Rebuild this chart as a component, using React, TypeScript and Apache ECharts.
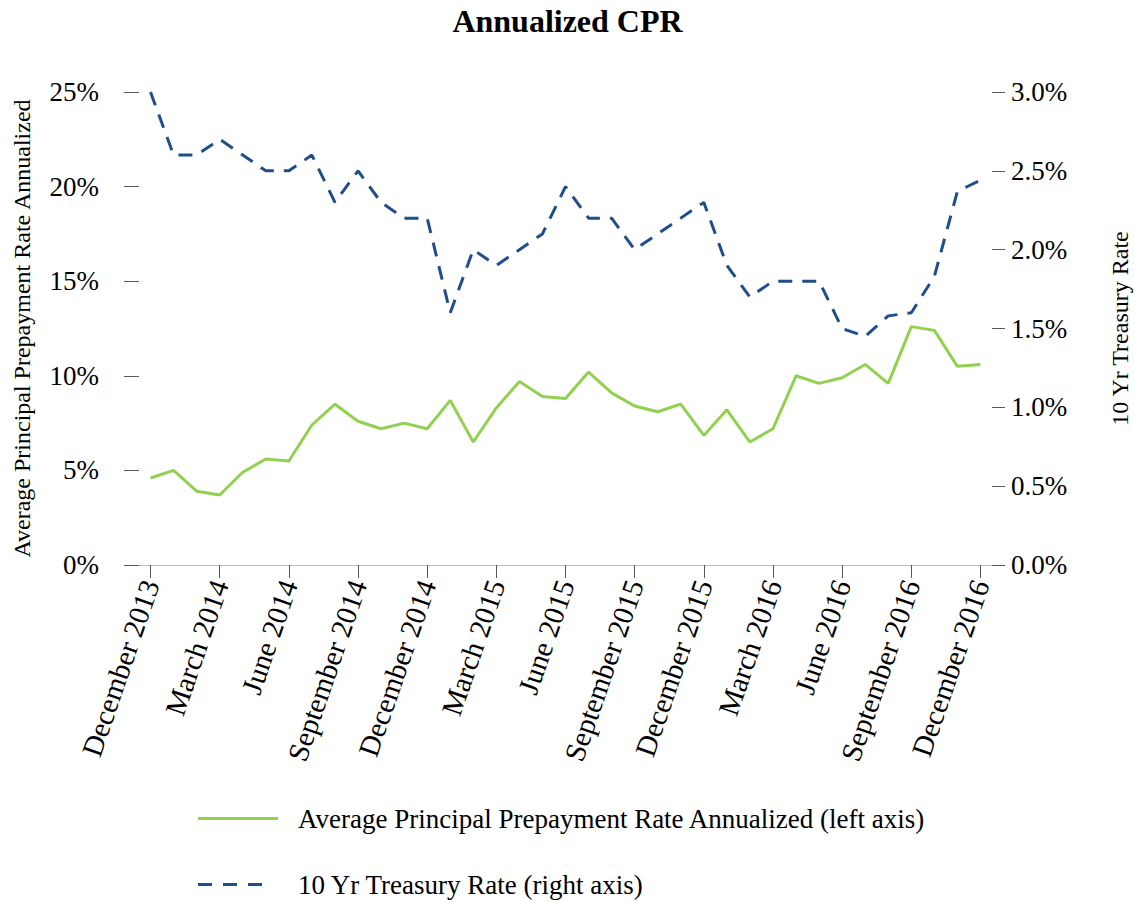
import React, { useEffect, useRef } from "react";
import * as echarts from "echarts";

const months = [
  "December 2013", "January 2014", "February 2014", "March 2014", "April 2014", "May 2014",
  "June 2014", "July 2014", "August 2014", "September 2014", "October 2014", "November 2014",
  "December 2014", "January 2015", "February 2015", "March 2015", "April 2015", "May 2015",
  "June 2015", "July 2015", "August 2015", "September 2015", "October 2015", "November 2015",
  "December 2015", "January 2016", "February 2016", "March 2016", "April 2016", "May 2016",
  "June 2016", "July 2016", "August 2016", "September 2016", "October 2016", "November 2016",
  "December 2016",
];

const cprValues = [
  4.6, 5.0, 3.9, 3.7, 4.9, 5.6, 5.5, 7.4, 8.5, 7.6, 7.2, 7.5,
  7.2, 8.7, 6.5, 8.3, 9.7, 8.9, 8.8, 10.2, 9.1, 8.4, 8.1, 8.5,
  6.85, 8.2, 6.5, 7.2, 10.0, 9.6, 9.9, 10.6, 9.6, 12.6, 12.4, 10.5,
  10.6,
];

const treasuryValues = [
  3.0, 2.6, 2.6, 2.7, 2.6, 2.5, 2.5, 2.6, 2.3, 2.5, 2.3, 2.2,
  2.2, 1.6, 2.0, 1.9, 2.0, 2.1, 2.4, 2.2, 2.2, 2.0, 2.1, 2.2,
  2.3, 1.9, 1.7, 1.8, 1.8, 1.8, 1.5, 1.45, 1.58, 1.6, 1.83, 2.37,
  2.44,
];

const seriesNames = [
  "Average Principal Prepayment Rate Annualized (left axis)",
  "10 Yr Treasury Rate (right axis)",
];

const FONT = "'Liberation Serif', 'Times New Roman', serif";
const GREEN = "#92d050";
const BLUE = "#1f4e8c";

export default function App() {
  const ref = useRef<HTMLDivElement>(null);
  useEffect(() => {
    if (!ref.current) return;
    const chart = echarts.init(ref.current, undefined, { renderer: "svg" });
    const legendText = { fontFamily: FONT, fontSize: 27, color: "#000" };
    chart.setOption({
      animation: false,
      backgroundColor: "#ffffff",
      textStyle: { fontFamily: FONT, color: "#000" },
      title: {
        text: "Annualized CPR",
        left: "center",
        top: 5,
        padding: 0,
        textStyle: { fontFamily: FONT, fontWeight: "bold", fontSize: 32, color: "#000" },
      },
      grid: {
        left: 139,
        right: 143,
        top: 92,
        bottom: 337,
        containLabel: false,
        outerBoundsMode: "none",
      },
      legend: [
        {
          orient: "vertical",
          left: 193,
          top: 800,
          itemWidth: 80,
          itemHeight: 3,
          textStyle: { ...legendText, padding: [0, 0, 0, 15] },
          data: [{ name: seriesNames[0], icon: "rect" }],
        },
        {
          orient: "vertical",
          left: 193,
          top: 866,
          itemWidth: 64,
          itemHeight: 3,
          textStyle: { ...legendText, padding: [0, 0, 0, 31] },
          data: [
            {
              name: seriesNames[1],
              icon: "path://M0,0h14v3h-14z M25,0h14v3h-14z M50,0h14v3h-14z",
            },
          ],
        },
      ],
      xAxis: {
        type: "category",
        data: months,
        boundaryGap: true,
        axisLine: { show: true, lineStyle: { color: "#bfbfbf", width: 1 } },
        axisTick: {
          show: true,
          interval: 2,
          alignWithLabel: true,
          length: 13,
          lineStyle: { color: "#595959", width: 1 },
        },
        axisLabel: {
          interval: 2,
          rotate: 71,
          margin: 16,
          fontFamily: FONT,
          fontSize: 29,
          color: "#000",
        },
        splitLine: { show: false },
      },
      yAxis: [
        {
          type: "value",
          min: 0,
          max: 25,
          interval: 5,
          position: "left",
          name: "Average Principal Prepayment Rate Annualized",
          nameLocation: "middle",
          nameGap: 105,
          nameRotate: 90,
          nameTextStyle: { fontFamily: FONT, fontSize: 24, color: "#000" },
          axisLine: { show: false },
          axisTick: { show: true, length: 15, lineStyle: { color: "#595959", width: 1 } },
          axisLabel: {
            margin: 40,
            fontFamily: FONT,
            fontSize: 27,
            color: "#000",
            formatter: (v: number) => `${v}%`,
          },
          splitLine: { show: false },
        },
        {
          type: "value",
          min: 0,
          max: 3,
          interval: 0.5,
          position: "right",
          name: "10 Yr Treasury Rate",
          nameLocation: "middle",
          nameGap: 116,
          nameRotate: 90,
          nameTextStyle: { fontFamily: FONT, fontSize: 24, color: "#000" },
          axisLine: { show: false },
          axisTick: { show: true, length: 13, lineStyle: { color: "#595959", width: 1 } },
          axisLabel: {
            margin: 19,
            fontFamily: FONT,
            fontSize: 27,
            color: "#000",
            formatter: (v: number) => `${v.toFixed(1)}%`,
          },
          splitLine: { show: false },
        },
      ],
      series: [
        {
          name: seriesNames[0],
          type: "line",
          yAxisIndex: 0,
          data: cprValues,
          symbol: "none",
          lineStyle: { color: GREEN, width: 3 },
          itemStyle: { color: GREEN },
        },
        {
          name: seriesNames[1],
          type: "line",
          yAxisIndex: 1,
          data: treasuryValues,
          symbol: "none",
          lineStyle: { color: BLUE, width: 3, type: [14, 10] },
          itemStyle: { color: BLUE },
        },
      ],
    });
    return () => chart.dispose();
  }, []);
  return (
    <div
      ref={ref}
      style={{ position: "absolute", left: 0, top: 0, width: 1135, height: 902 }}
    />
  );
}
